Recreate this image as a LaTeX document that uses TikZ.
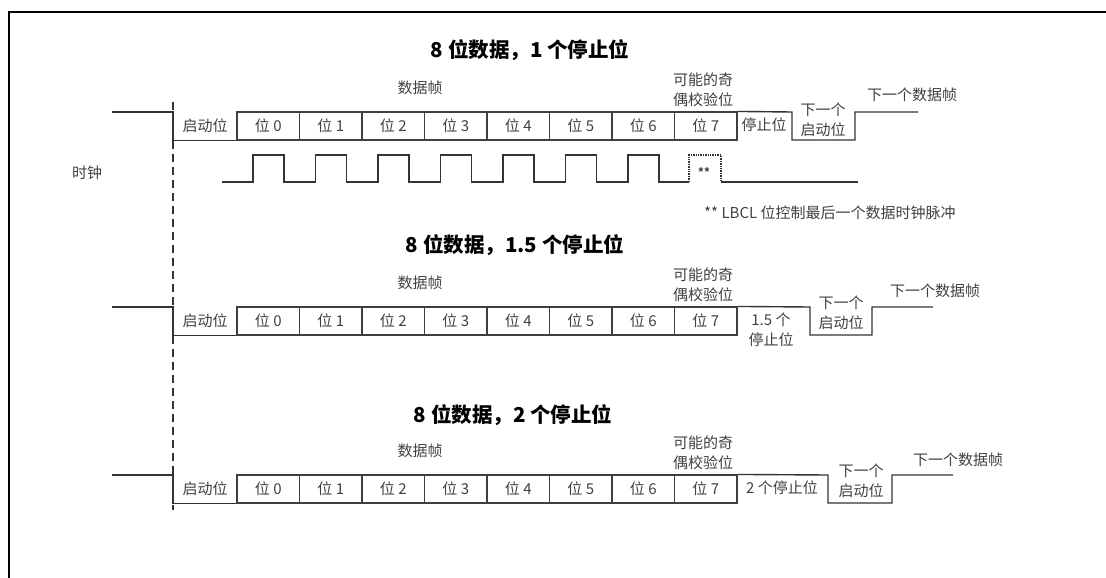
\documentclass[tikz,border=0pt]{standalone}
\usepackage{fontspec}
\newfontfamily\cjk{Noto Sans CJK SC}
\begin{document}
\begin{tikzpicture}[x=1pt, y=-1pt,
  wave/.style={line width=1.4pt, draw=black!80},
  cell/.style={draw=black!75, line width=1.1pt, minimum width=62.5pt, minimum height=28pt, inner sep=0pt, font=\cjk\fontsize{15}{17}\selectfont, text=black!75},
  lbl/.style={font=\cjk\fontsize{15}{19.5}\selectfont, text=black!75, inner sep=0pt},
  ttl/.style={font=\cjk\bfseries\fontsize{20.5}{22}\selectfont, inner sep=0pt}]
\useasboundingbox (0,0) rectangle (1106,578);
\draw[line width=2pt] (9,578) -- (9,12.5) -- (1106,12.5);

\node[ttl] (t1) at (530,50) {8 位数据，1 个停止位};
\node[ttl] (t2) at (515,245) {8 位数据，1.5 个停止位};
\node[ttl] (t3) at (513,415) {8 位数据，2 个停止位};

\draw[wave, line width=1.2pt, dash pattern=on 8pt off 5pt] (173,102) -- (173,510);

\foreach \r/\t in {a/112, b/307, c/475}{
  \coordinate (\r-in) at (112,\t);
  \coordinate (\r-fall) at (173,\t);
  \node[lbl] (\r-start) at (205,{\t+14}) {启动位};
  \foreach \i in {0,...,7}
    \node[cell] (\r-\i) at ({268.25+62.5*\i},{\t+14}) {位 \i};
  \draw[wave] (\r-in) -- (\r-fall) -- (\r-fall |- \r-0.south) -- (\r-0.south west);
  \node[lbl] (\r-frame) at (420,{\t-24}) {数据帧};
  \node[lbl, align=center] (\r-par) at (703,{\t-22}) {可能的奇\\偶校验位};
}

\coordinate (a-stop) at (792,112);
\coordinate (a-next) at (855,140);
\coordinate (a-end) at (918,112);
\draw[wave] (a-7.north east) -- (a-stop) |- (a-next) |- (a-end);
\node[lbl] (a-stoplbl) at (764,125) {停止位};
\node[lbl, align=center] (a-nextlbl) at (823,120) {下一个\\启动位};
\node[lbl] (a-nextframe) at (912,95) {下一个数据帧};

\coordinate (b-stop) at (810,307);
\coordinate (b-next) at (872,335);
\coordinate (b-end) at (933,307);
\draw[wave] (b-7.north east) -- (b-stop) |- (b-next) |- (b-end);
\node[lbl, align=center] (b-stoplbl) at (771,330) {1.5 个\\停止位};
\node[lbl, align=center] (b-nextlbl) at (841,313) {下一个\\启动位};
\node[lbl] (b-nextframe) at (935,291) {下一个数据帧};

\coordinate (c-stop) at (828,475);
\coordinate (c-next) at (892,503);
\coordinate (c-end) at (953,475);
\draw[wave] (c-7.north east) -- (c-stop) |- (c-next) |- (c-end);
\node[lbl] (c-stoplbl) at (782,488) {2 个停止位};
\node[lbl, align=center] (c-nextlbl) at (861,481) {下一个\\启动位};
\node[lbl] (c-nextframe) at (958,460) {下一个数据帧};

\node[lbl] (clk) at (87,173) {时钟};
\coordinate (clk-a) at (222,182);
\coordinate (clk-b) at (689,182);
\coordinate (clk-c) at (721,182);
\coordinate (clk-d) at (858,182);
\draw[wave] (clk-a) \foreach \k in {0,...,6}{ -- ({253+62.5*\k},182) -- ++(0,-27) -- ++(31,0) -- ++(0,27) } -- (clk-b);
\draw[wave, densely dotted] (clk-b) -- ++(0,-27) -| (clk-c);
\draw[wave] (clk-c) -- (clk-d);
\node[lbl, font=\cjk\bfseries\fontsize{11}{12}\selectfont] (stars) at (704,172) {**};
\node[lbl, anchor=west] (note) at (704,213) {** LBCL 位控制最后一个数据时钟脉冲};
\end{tikzpicture}
\end{document}
